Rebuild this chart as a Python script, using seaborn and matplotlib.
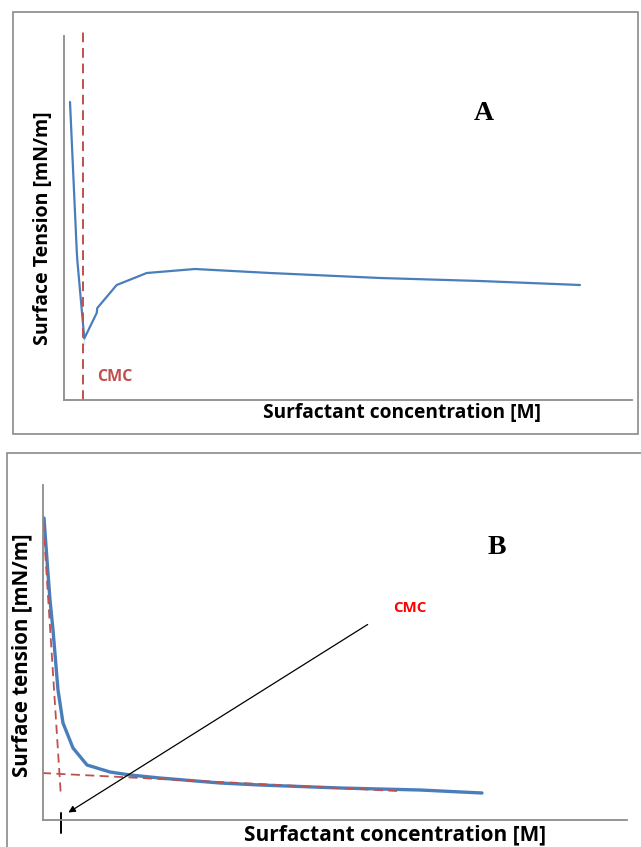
import matplotlib
matplotlib.use("Agg")
import matplotlib.pyplot as plt
from matplotlib.patches import Rectangle
import pandas as pd
import seaborn as sns

# panel A: surface tension curve (arbitrary units)
conc_a = [6, 12.7, 13.3, 20.3, 20.3, 32.7, 33.3, 52.7, 82.7, 131, 206, 316, 416, 516]
tension_a = [298, 150, 140, 55, 68, 87, 92, 115, 127, 131, 127, 122, 119, 115]
cmc_a = 19

# panel B: ideal curve + tangent construction
conc_b = [1, 4, 7, 10, 15, 20, 30, 44, 67, 87, 117, 177, 217, 297, 377, 439]
tension_b = [302, 260, 220, 190, 130, 97, 72, 55, 48, 45, 42, 37, 35, 32, 30, 27]
steep_x = [0.3, 17.7]
steep_y = [297, 27]
flat_x = [-1, 354]
flat_y = [47, 29]
cmc_b = 18

xlabel = "Surfactant concentration [M]"
ylabel_a = "Surface Tension [mN/m]"
ylabel_b = "Surface tension [mN/m]"

sns.set_style("white")
plt.rcParams['font.family'] = ['Open Sans', 'DejaVu Sans']
plt.rcParams['text.color'] = 'black'

W, H = 641, 847
fig = plt.figure(figsize=(W / 100, H / 100), dpi=100)

# outer frames of the two panels
for (x0, y0, x1, y1) in [(13, 12, 638, 434), (7, 453, 645, 850)]:
    fig.add_artist(Rectangle((x0 / W, 1 - y1 / H), (x1 - x0) / W, (y1 - y0) / H,
                             transform=fig.transFigure, fill=False,
                             edgecolor='#8a8a8a', lw=1.2))

blue = '#4a7ebb'
red = '#c0504d'
spine_col = '#8c8c8c'

# ---- panel A
axA = fig.add_axes([64 / W, 1 - 400 / H, 568 / W, 368 / H])
axA.set_xlim(0, 568)
axA.set_ylim(0, 368)
dfA = pd.DataFrame({"c": conc_a, "t": tension_a})
sns.lineplot(data=dfA, x="c", y="t", sort=False, color=blue, lw=1.6, ax=axA)
axA.axvline(cmc_a, color=red, lw=1.4, ls=(0, (5, 3)))
axA.text(33, 23, "CMC", color=red, fontsize=11.5, fontweight='bold', va='center')
axA.text(420, 287, "A", family='Liberation Serif', fontsize=20, fontweight='bold',
         va='center', ha='center')
axA.text(338, -13, xlabel, fontsize=13.8, fontweight='bold', ha='center', va='center',
         clip_on=False)
axA.text(-21, 172, ylabel_a, fontsize=14, fontweight='bold', ha='center', va='center',
         rotation=90, clip_on=False)
axA.spines['left'].set_bounds(0, 364)

# ---- panel B
axB = fig.add_axes([43 / W, 27 / H, 584 / W, 335 / H])
axB.set_xlim(0, 584)
axB.set_ylim(0, 335)
dfB = pd.DataFrame({"c": conc_b, "t": tension_b})
sns.lineplot(data=dfB, x="c", y="t", sort=False, color=blue, lw=2.4, ax=axB)
sns.lineplot(x=steep_x, y=steep_y, color=red, lw=1.3, ax=axB, linestyle=(0, (5, 3)))
sns.lineplot(x=flat_x, y=flat_y, color=red, lw=1.3, ax=axB, linestyle=(0, (5, 3)))
axB.plot([cmc_b, cmc_b], [7, -13], color='black', lw=1.4, clip_on=False)
axB.annotate("", xy=(cmc_b + 5, 6), xytext=(327, 197),
             arrowprops=dict(arrowstyle='-|>', color='black', lw=0.9, mutation_scale=10))
axB.text(350, 212, "CMC", color='#ff0000', fontsize=10.8, fontweight='bold', va='center')
axB.text(454, 272, "B", family='Liberation Serif', fontsize=20, fontweight='bold',
         va='center', ha='center')
axB.text(352, -15, xlabel, fontsize=15, fontweight='bold', ha='center', va='center',
         clip_on=False)
axB.text(-21, 165, ylabel_b, fontsize=14.8, fontweight='bold', ha='center', va='center',
         rotation=90, clip_on=False)

for ax in (axA, axB):
    ax.set_xticks([])
    ax.set_yticks([])
    ax.set_xlabel("")
    ax.set_ylabel("")
    ax.patch.set_alpha(0)
    for s in ('top', 'right'):
        ax.spines[s].set_visible(False)
    for s in ('left', 'bottom'):
        ax.spines[s].set_color(spine_col)
        ax.spines[s].set_linewidth(1.3)

fig.savefig("out.png", dpi=100)
